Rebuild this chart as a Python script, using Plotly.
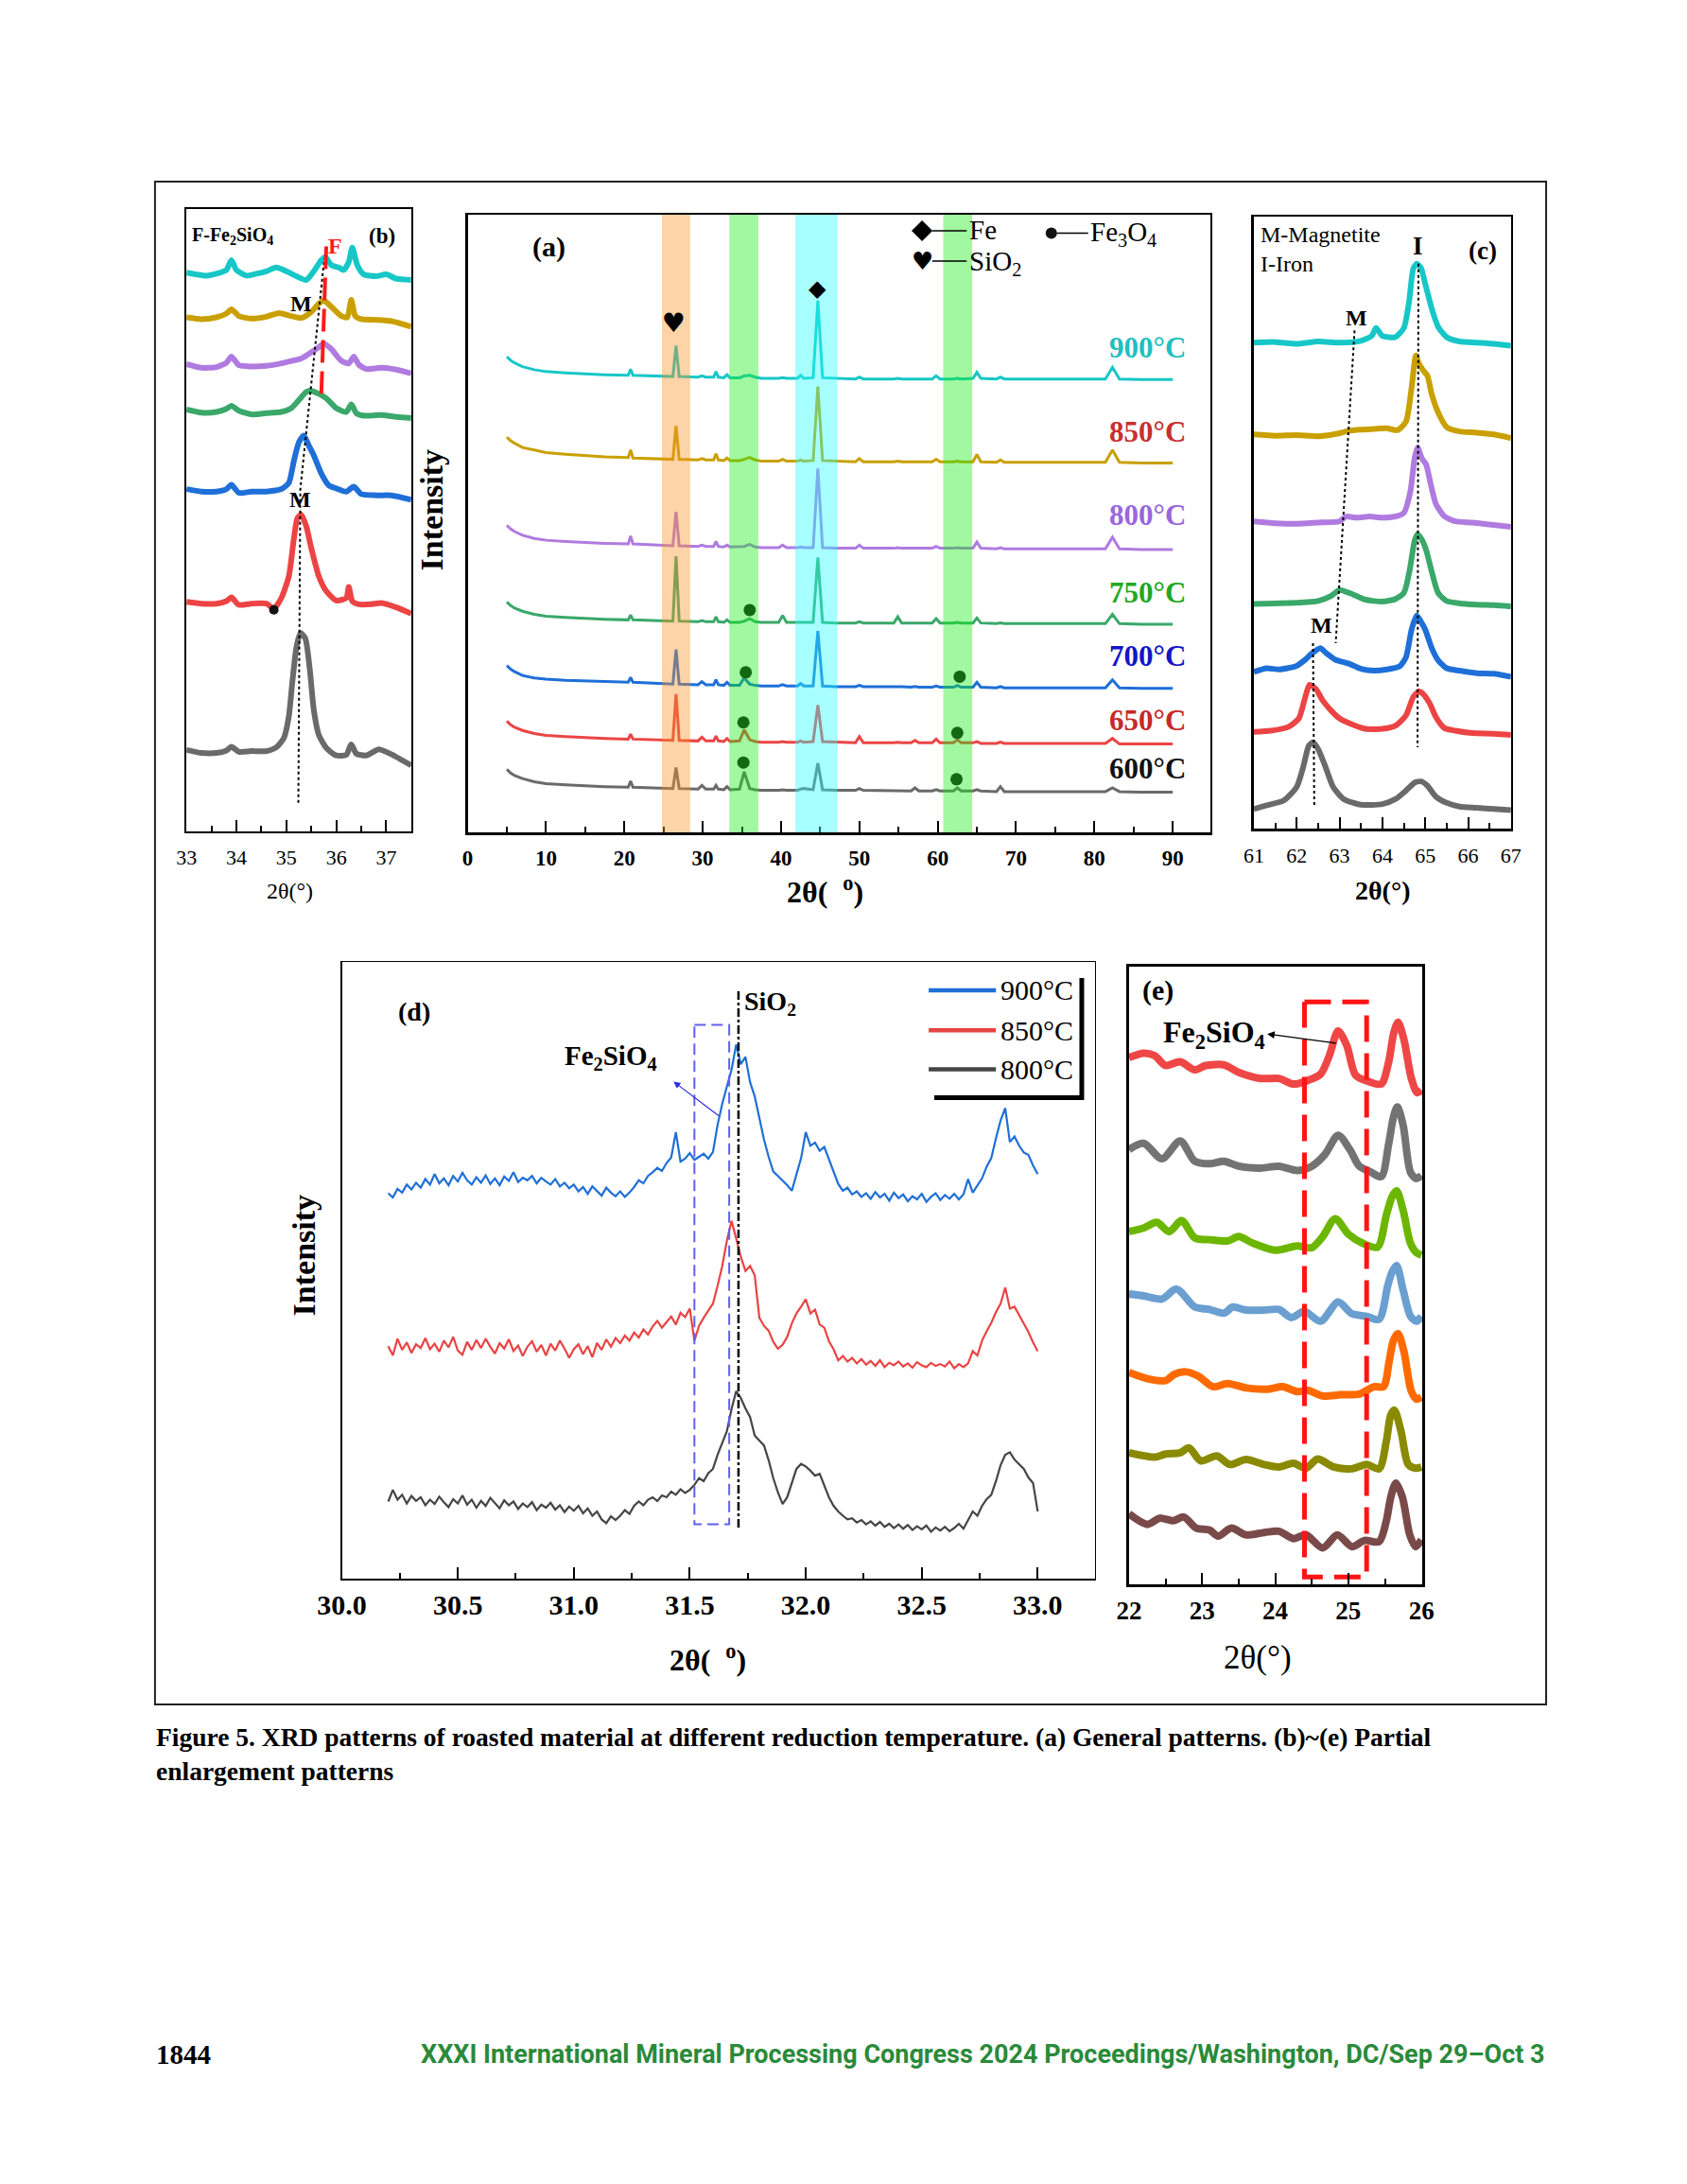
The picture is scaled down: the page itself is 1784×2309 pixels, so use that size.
import plotly.graph_objects as go

W, H = 1784, 2309
SERIF = "Liberation Serif, Times New Roman, serif"
SYM = "DejaVu Sans, sans-serif"

# ---------------- Panel (a): general patterns ----------------
A_X = [5, 5.5, 6, 7, 8.5, 10, 12.5, 15, 17.5,
       20.5, 20.8, 21.1, 23,
       26.2, 26.6, 27.0,
       29.4, 29.9, 30.4,
       31.4, 31.7, 32.0,
       32.7, 33.1, 33.5,
       34.7, 35.3, 36.0, 36.7, 37.5,
       39.7, 40.2, 40.7,
       42.1, 42.5, 42.9,
       44.1, 44.7, 45.3,
       47,
       49.5, 50.0, 50.5,
       54.4, 54.9, 55.4,
       56.6, 57.1, 57.6,
       59.3, 59.8, 60.3,
       62.0, 62.5, 63.0,
       64.5, 65.0, 65.5,
       67.5, 68.0, 68.5,
       72, 77,
       81.4, 82.3, 83.2,
       86, 90]

A_Y_900 = [77.0, 76.4, 76.0, 75.4, 74.9, 74.6, 74.4, 74.2, 74.1,
           74.0, 75.0, 74.0, 73.9,
           73.8, 78.8, 73.8,
           73.7, 73.9, 73.7,
           73.7, 74.6, 73.7,
           73.6, 74.1, 73.6,
           73.6, 73.9, 74.0, 73.7, 73.5,
           73.5, 73.6, 73.5,
           73.5, 74.0, 73.5,
           73.6, 86.1, 73.6,
           73.5,
           73.4, 73.7, 73.4,
           73.4, 73.5, 73.4,
           73.4, 73.5, 73.4,
           73.4, 73.9, 73.4,
           73.4, 73.5, 73.4,
           73.5, 74.5, 73.5,
           73.4, 73.7, 73.4,
           73.4, 73.4,
           73.4, 75.3, 73.4,
           73.3, 73.3]
A_Y_850 = [64.0, 63.4, 63.0, 62.3, 61.9, 61.5, 61.2, 61.0, 60.8,
           60.7, 61.9, 60.6, 60.5,
           60.4, 65.8, 60.4,
           60.3, 60.5, 60.3,
           60.3, 61.3, 60.3,
           60.2, 60.6, 60.2,
           60.2, 60.4, 60.7, 60.3, 60.1,
           60.1, 60.4, 60.1,
           60.1, 60.3, 60.1,
           60.2, 72.2, 60.2,
           60.1,
           60.0, 60.5, 60.0,
           60.0, 60.1, 60.0,
           60.0, 60.1, 60.0,
           60.0, 60.4, 60.0,
           60.0, 60.1, 60.0,
           60.0, 61.2, 60.0,
           59.9, 60.3, 59.9,
           59.9, 59.9,
           59.9, 61.9, 59.9,
           59.8, 59.8]
A_Y_800 = [49.7, 49.1, 48.7, 48.1, 47.6, 47.3, 47.1, 46.9, 46.8,
           46.7, 48.0, 46.7, 46.6,
           46.4, 51.9, 46.4,
           46.3, 46.5, 46.3,
           46.3, 47.1, 46.3,
           46.2, 46.5, 46.2,
           46.2, 46.3, 46.6, 46.2, 46.1,
           46.1, 46.5, 46.1,
           46.1, 46.2, 46.1,
           46.1, 58.9, 46.1,
           46.0,
           46.0, 46.5, 46.0,
           46.0, 46.1, 46.0,
           46.0, 46.1, 46.0,
           46.0, 46.3, 46.0,
           46.0, 46.1, 46.0,
           46.0, 47.0, 46.0,
           45.9, 46.1, 45.9,
           45.9, 45.9,
           45.9, 47.8, 45.9,
           45.8, 45.8]
A_Y_750 = [37.3, 36.7, 36.3, 35.8, 35.3, 35.0, 34.8, 34.6, 34.5,
           34.4, 35.2, 34.4, 34.3,
           34.2, 44.7, 34.2,
           34.1, 34.3, 34.1,
           34.1, 34.9, 34.1,
           34.0, 34.4, 34.0,
           34.0, 34.2, 34.6, 34.1, 34.0,
           34.0, 35.1, 34.0,
           34.0, 34.1, 34.0,
           34.0, 44.5, 34.0,
           33.9,
           33.9, 34.1, 33.9,
           33.9, 34.9, 33.9,
           33.9, 34.0, 33.9,
           33.9, 34.6, 33.9,
           33.9, 34.0, 33.9,
           33.9, 34.7, 33.9,
           33.8, 33.9, 33.8,
           33.8, 33.8,
           33.8, 35.3, 33.8,
           33.7, 33.7]
A_Y_700 = [27.0, 26.4, 26.0, 25.4, 25.0, 24.8, 24.6, 24.5, 24.4,
           24.3, 25.1, 24.3, 24.2,
           24.0, 29.6, 24.0,
           23.9, 24.4, 23.9,
           23.9, 24.7, 23.9,
           23.8, 24.3, 23.8,
           23.8, 25.0, 24.0, 23.8, 23.7,
           23.7, 23.9, 23.7,
           23.7, 24.1, 23.7,
           23.7, 32.6, 23.7,
           23.6,
           23.6, 23.8, 23.6,
           23.6, 23.7, 23.6,
           23.5, 23.6, 23.5,
           23.5, 23.7, 23.5,
           23.5, 23.8, 23.5,
           23.5, 24.3, 23.5,
           23.4, 23.6, 23.4,
           23.4, 23.4,
           23.4, 24.7, 23.4,
           23.3, 23.3]
A_Y_650 = [18.0, 17.4, 17.0, 16.5, 16.0, 15.7, 15.5, 15.3, 15.2,
           15.1, 15.9, 15.1, 15.0,
           14.9, 22.4, 14.9,
           14.8, 15.4, 14.8,
           14.8, 15.6, 14.8,
           14.7, 15.2, 14.7,
           14.8, 16.6, 15.0, 14.7, 14.6,
           14.6, 14.7, 14.6,
           14.6, 14.8, 14.6,
           14.7, 20.6, 14.7,
           14.6,
           14.5, 15.5, 14.5,
           14.5, 14.6, 14.5,
           14.5, 14.9, 14.5,
           14.5, 15.1, 14.5,
           14.5, 15.0, 14.5,
           14.5, 14.7, 14.4,
           14.4, 14.6, 14.4,
           14.4, 14.4,
           14.4, 15.2, 14.3,
           14.3, 14.3]
A_Y_600 = [10.2, 9.6, 9.2, 8.7, 8.2, 7.9, 7.7, 7.5, 7.4,
           7.3, 8.3, 7.3, 7.2,
           7.1, 10.5, 7.1,
           7.0, 7.6, 7.0,
           7.0, 7.6, 7.0,
           6.9, 7.4, 6.9,
           7.0, 9.8, 7.1, 6.9, 6.8,
           6.8, 6.9, 6.8,
           6.8, 7.0, 7.1,
           6.9, 11.2, 6.9,
           6.8,
           6.8, 7.1, 6.8,
           6.7, 6.8, 6.7,
           6.7, 7.2, 6.7,
           6.7, 6.9, 6.7,
           6.7, 7.2, 6.7,
           6.7, 6.9, 6.7,
           6.6, 7.4, 6.6,
           6.6, 6.6,
           6.6, 7.2, 6.6,
           6.5, 6.5]

TEMPS = ["900", "850", "800", "750", "700", "650", "600"]
A_Y = {"900": A_Y_900, "850": A_Y_850, "800": A_Y_800, "750": A_Y_750,
       "700": A_Y_700, "650": A_Y_650, "600": A_Y_600}
TRACE_COLORS = {"900": "#17c7c7", "850": "#c9a000", "800": "#b07be0", "750": "#3aa86a",
                "700": "#1f6fd8", "650": "#ec4444", "600": "#6a6a6a"}
A_LABEL_COLORS = {"900": "#1fbfbf", "850": "#c83030", "800": "#9a66dd", "750": "#22a822",
                  "700": "#1414c8", "650": "#c82828", "600": "#111111"}
A_LABEL_X = 86.8
A_LABEL_Y = {"900": 78.5, "850": 64.9, "800": 51.4, "750": 38.8, "700": 28.6, "650": 18.2, "600": 10.3}

A_BANDS = [(24.8, 28.4, "rgb(250,145,37)"), (33.4, 37.1, "rgb(20,237,20)"),
           (41.8, 47.2, "rgb(37,255,255)"), (60.7, 64.4, "rgb(20,237,20)")]
FE3O4_DOT_X = [36.0, 35.5, 62.8, 35.2, 62.5, 35.2, 62.4]
FE3O4_DOT_Y = [36.0, 25.9, 25.2, 17.8, 16.1, 11.3, 8.6]
FE_MARK = (44.7, 88.1)
SIO2_MARK = (26.3, 82.4)

# ---------------- Panel (b): 33-37.5 ----------------
B_DATA = {
    "900": ([33.0, 33.2, 33.4, 33.6, 33.8, 33.9, 34.0, 34.2, 34.4, 34.6, 34.8, 35.0, 35.2, 35.4, 35.55,
             35.7, 35.78, 35.9, 36.05, 36.15, 36.25, 36.32, 36.42, 36.55, 36.8, 37.0, 37.2, 37.5],
            [89.8, 89.5, 89.3, 89.6, 90.2, 91.8, 90.2, 89.3, 89.6, 90.0, 90.6, 90.0, 89.2, 88.6, 90.0,
             91.8, 92.3, 91.0, 90.6, 90.2, 91.5, 93.8, 91.0, 89.5, 89.2, 89.5, 88.8, 88.6]),
    "850": ([33.0, 33.3, 33.6, 33.8, 33.9, 34.05, 34.3, 34.6, 34.85, 35.1, 35.3, 35.5, 35.65, 35.75,
             35.9, 36.1, 36.22, 36.3, 36.38, 36.5, 36.8, 37.1, 37.5],
            [82.6, 82.3, 82.6, 83.2, 83.9, 82.8, 82.4, 82.7, 83.3, 82.8, 82.5, 83.5, 84.8, 85.3,
             84.3, 82.8, 82.6, 85.4, 82.8, 82.3, 82.2, 82.0, 81.1]),
    "800": ([33.0, 33.3, 33.6, 33.8, 33.9, 34.05, 34.3, 34.6, 34.9, 35.1, 35.3, 35.5, 35.65, 35.75,
             35.9, 36.1, 36.25, 36.35, 36.45, 36.6, 36.9, 37.2, 37.5],
            [75.1, 74.5, 74.6, 75.3, 76.3, 74.9, 74.7, 74.8, 75.2, 75.6, 76.0, 77.0, 77.8, 78.4,
             77.5, 75.6, 75.2, 76.3, 75.0, 74.3, 74.5, 74.2, 73.6]),
    "750": ([33.0, 33.3, 33.6, 33.8, 33.9, 34.05, 34.3, 34.6, 34.9, 35.1, 35.25, 35.4, 35.5, 35.65,
             35.8, 36.0, 36.2, 36.3, 36.4, 36.55, 36.9, 37.2, 37.5],
            [67.8, 67.3, 67.4, 67.9, 68.4, 67.6, 67.0, 67.2, 67.4, 68.0, 69.3, 70.6, 70.8, 70.3,
             69.6, 68.0, 67.4, 68.6, 67.2, 66.8, 66.9, 66.6, 66.4]),
    "700": ([33.0, 33.3, 33.6, 33.8, 33.9, 34.05, 34.3, 34.6, 34.9, 35.05, 35.15, 35.25, 35.35, 35.45,
             35.55, 35.7, 35.85, 36.0, 36.2, 36.35, 36.5, 36.8, 37.1, 37.5],
            [55.0, 54.6, 54.6, 55.0, 55.7, 54.4, 54.6, 54.6, 55.0, 56.0, 59.5, 62.5, 63.6, 62.0,
             60.4, 57.5, 55.6, 55.1, 54.6, 55.4, 54.2, 54.0, 54.0, 53.3]),
    "650": ([33.0, 33.3, 33.6, 33.8, 33.9, 34.05, 34.3, 34.6, 34.75, 34.9, 35.05, 35.15, 35.22, 35.3,
             35.4, 35.5, 35.65, 35.8, 36.0, 36.2, 36.25, 36.32, 36.45, 36.7, 36.9, 37.2, 37.5],
            [36.9, 36.6, 36.6, 37.0, 37.6, 36.4, 36.6, 36.6, 35.8, 37.5, 41.0, 47.0, 50.3, 50.9,
             49.0, 45.5, 41.0, 38.6, 37.1, 37.5, 39.3, 37.0, 36.5, 36.5, 36.7, 36.0, 35.0]),
    "600": ([33.0, 33.3, 33.6, 33.8, 33.9, 34.05, 34.3, 34.6, 34.8, 34.95, 35.05, 35.12, 35.2, 35.28,
             35.38, 35.47, 35.55, 35.65, 35.8, 36.0, 36.2, 36.3, 36.4, 36.6, 36.85, 37.1, 37.5],
            [13.1, 12.6, 12.6, 13.0, 13.6, 12.8, 12.9, 12.9, 13.5, 15.0, 18.5, 24.0, 29.5, 31.9,
             31.0, 26.0, 19.5, 15.5, 13.4, 12.2, 12.3, 14.0, 12.5, 12.2, 13.2, 12.4, 10.6]),
}
B_GUIDE_X = [35.24, 35.28, 35.76]
B_GUIDE_Y = [4.6, 55.0, 92.0]
B_F_X = [35.70, 35.80]
B_F_Y = [70.3, 94.2]
B_DOT = (34.75, 35.6)

# ---------------- Panel (c): 61-67 ----------------
C_DATA = {
    "900": ([61.0, 61.5, 62.0, 62.5, 63.0, 63.5, 63.75, 63.85, 64.0, 64.3, 64.5, 64.62, 64.72, 64.8,
             64.9, 65.0, 65.15, 65.3, 65.5, 65.8, 66.2, 66.6, 67.0],
            [79.4, 79.5, 79.2, 79.6, 79.4, 79.7, 80.5, 81.8, 80.5, 80.3, 81.8, 86.0, 91.5, 92.3,
             91.6, 89.0, 85.0, 82.0, 80.3, 79.6, 79.4, 79.2, 78.9]),
    "850": ([61.0, 61.5, 62.0, 62.5, 63.0, 63.2, 63.5, 63.8, 64.1, 64.35, 64.55, 64.68, 64.78, 64.85,
             64.95, 65.05, 65.15, 65.3, 65.5, 65.8, 66.2, 66.6, 67.0],
            [64.4, 64.2, 64.3, 64.1, 64.6, 65.0, 65.2, 65.3, 65.4, 65.1, 66.5, 72.0, 77.3, 76.0,
             74.9, 74.0, 71.0, 68.0, 65.6, 64.9, 64.7, 64.4, 63.8]),
    "800": ([61.0, 61.5, 62.0, 62.5, 63.0, 63.15, 63.4, 63.7, 64.0, 64.3, 64.5, 64.65, 64.75, 64.82,
             64.92, 65.02, 65.12, 65.25, 65.45, 65.7, 66.1, 66.6, 67.0],
            [50.2, 49.9, 49.8, 50.0, 50.2, 51.0, 50.8, 51.0, 50.8, 51.0, 51.6, 55.0, 60.5, 62.3,
             60.5, 59.5, 56.5, 53.0, 51.0, 50.2, 50.0, 49.6, 49.3]),
    "750": ([61.0, 61.5, 62.0, 62.5, 62.8, 63.0, 63.3, 63.6, 64.0, 64.3, 64.5, 64.63, 64.75, 64.82,
             64.92, 65.02, 65.15, 65.3, 65.5, 65.8, 66.2, 66.6, 67.0],
            [36.7, 36.8, 36.9, 37.2, 38.0, 39.0, 38.3, 37.4, 37.1, 37.5, 38.5, 42.0, 47.0, 48.1,
             47.2, 45.5, 42.0, 38.5, 37.2, 36.8, 36.6, 36.5, 36.3]),
    "700": ([61.0, 61.3, 61.6, 62.0, 62.2, 62.35, 62.55, 62.7, 62.9, 63.2, 63.5, 63.8, 64.1, 64.4,
             64.55, 64.68, 64.8, 64.9, 65.0, 65.15, 65.3, 65.5, 65.8, 66.2, 66.6, 67.0],
            [25.6, 26.2, 26.0, 26.6, 27.6, 28.6, 29.5, 28.6, 27.6, 27.0, 26.1, 25.8, 26.0, 26.5,
             28.0, 32.5, 34.8, 33.8, 32.5, 29.5, 27.5, 26.2, 25.8, 25.4, 25.3, 24.8]),
    "650": ([61.0, 61.4, 61.8, 62.05, 62.2, 62.3, 62.45, 62.6, 62.8, 63.0, 63.3, 63.6, 64.0, 64.3,
             64.55, 64.72, 64.85, 64.95, 65.1, 65.25, 65.45, 65.7, 66.1, 66.6, 67.0],
            [15.8, 16.0, 16.6, 18.0, 21.5, 23.5, 22.8, 21.0, 19.3, 18.0, 17.0, 16.3, 16.3, 16.8,
             18.5, 21.5, 22.4, 22.0, 20.5, 18.2, 16.4, 16.0, 15.6, 15.5, 15.3]),
    "600": ([61.0, 61.3, 61.7, 62.0, 62.15, 62.28, 62.38, 62.5, 62.65, 62.85, 63.1, 63.5, 64.0, 64.3,
             64.55, 64.75, 64.9, 65.05, 65.25, 65.5, 65.8, 66.2, 66.6, 67.0],
            [3.2, 3.8, 4.6, 6.8, 10.0, 13.5, 14.1, 13.0, 10.5, 6.8, 4.8, 3.9, 4.0, 4.8,
             6.2, 7.5, 7.7, 7.0, 5.2, 4.2, 3.6, 3.4, 3.2, 3.0]),
}
C_GUIDES = [([64.84, 64.82], [92.3, 13.3]),
            ([63.35, 62.91], [81.4, 30.3]),
            ([62.38, 62.41], [30.3, 3.6])]

# ---------------- Panel (d): 30-33 ----------------
D_X = [round(30.20 + 0.02 * i, 2) for i in range(141)]
D_Y_900 = [62.5, 61.8, 63.2, 62.6, 63.9, 63.1, 64.2, 63.4, 64.8, 63.9,
           65.6, 64.1, 64.9, 63.8, 65.3, 64.4, 65.8, 64.6, 63.9, 65.1,
           64.2, 65.4, 64.0, 64.9, 63.8, 65.2, 64.5, 65.9, 64.3, 65.0,
           64.6, 65.3, 64.1, 65.0, 64.4, 63.9, 64.8, 63.6, 64.2, 63.3,
           63.9, 62.8, 63.5, 62.4, 63.6, 62.9, 62.1, 63.4, 62.6, 62.0,
           62.8, 61.9, 62.6, 63.5, 64.6, 64.1, 65.3, 65.9, 66.6, 66.1,
           67.4, 68.3, 72.4, 67.6, 68.1, 69.0, 67.9, 68.4, 68.9, 68.1,
           69.2, 73.6, 77.0, 79.8, 82.5, 86.6, 83.4, 84.6, 80.5, 78.2,
           74.6, 71.2, 68.4, 66.0, 65.3, 64.6, 63.8, 62.9, 65.4, 68.2,
           72.4, 70.2, 70.7, 69.4, 70.0, 68.1, 66.2, 64.0, 62.9, 63.4,
           62.3, 62.8, 61.9, 62.5, 61.6, 62.7, 61.8, 62.4, 61.3, 62.6,
           61.7, 62.3, 61.2, 62.0, 61.5, 62.4, 61.1, 61.9, 62.5, 61.4,
           62.2, 61.6, 62.4, 61.5, 62.3, 64.8, 62.6, 63.7, 64.9, 66.8,
           68.2, 71.4, 74.3, 76.3, 70.8, 71.7, 70.2, 69.1, 68.7, 67.0,
           65.6]
D_Y_850 = [37.7, 36.2, 38.9, 37.1, 38.3, 36.6, 38.0, 37.4, 39.0, 37.2,
           38.1, 36.8, 38.6, 37.5, 39.2, 37.0, 36.3, 38.4, 37.1, 38.7,
           37.4, 38.9, 37.6, 36.5, 38.2, 37.3, 38.8, 36.9, 37.8, 36.1,
           37.6, 38.5, 36.8, 37.9, 36.2, 38.1, 37.0, 38.6, 37.3, 35.8,
           37.2, 38.0, 36.4, 37.7, 35.9, 38.2, 37.1, 38.8, 37.6, 39.0,
           38.2, 39.4, 38.6, 39.9, 39.1, 40.4, 39.6, 40.9, 41.8, 40.7,
           41.6, 42.5, 41.2, 43.1, 42.4, 43.8, 38.6, 41.0, 42.3, 43.4,
           44.6, 47.5, 50.7, 54.8, 58.0, 55.2, 52.2, 49.9, 50.7, 49.2,
           42.3, 41.0, 40.2, 38.4, 37.3, 37.9, 39.2, 41.4, 43.0, 44.1,
           45.3, 43.0, 43.6, 41.2, 40.7, 38.5, 37.2, 35.4, 36.1, 35.2,
           35.8, 34.9, 35.6, 34.7, 35.3, 34.5, 35.4, 34.3, 35.0, 34.6,
           35.2, 34.4, 34.9, 34.2, 35.1, 34.6, 34.3, 35.0, 34.5, 34.8,
           34.4, 35.2, 34.1, 34.8, 34.3, 34.9, 36.9, 36.2, 38.6, 40.1,
           41.5, 43.2, 44.6, 47.2, 43.8, 44.1, 42.7, 41.5, 40.0, 38.3,
           36.9]
D_Y_800 = [12.5, 14.4, 12.8, 13.6, 12.2, 13.4, 12.6, 13.2, 11.9, 12.8,
           12.1, 13.3, 12.4, 11.6, 12.9, 12.2, 13.5, 12.0, 12.8, 11.5,
           12.6, 11.8, 13.1, 12.3, 11.4, 12.7, 11.9, 12.5, 11.3, 12.2,
           11.6, 12.4, 11.1, 12.0, 11.5, 12.3, 11.2, 11.9, 10.8, 11.7,
           11.0, 11.8, 10.6, 11.4, 10.2, 10.9, 9.6, 9.0, 10.1, 9.5,
           10.2, 11.1, 10.5, 11.8, 12.5, 11.9, 12.8, 13.2, 12.6, 13.5,
           13.2, 14.1, 13.6, 14.5, 13.9, 14.4, 15.2, 16.3, 15.8, 17.1,
           17.8, 20.1, 22.0, 23.9, 27.5, 30.4, 29.3, 27.6, 26.2, 23.2,
           22.4, 21.6, 19.2, 16.3, 14.0, 12.1, 13.2, 15.4, 17.8, 18.6,
           18.2, 17.5, 16.7, 17.0, 15.1, 13.2, 11.8, 10.9, 10.2, 9.6,
           9.8, 9.1, 9.5, 8.8, 9.3, 8.6, 9.2, 8.4, 8.9, 8.2,
           8.8, 8.1, 8.7, 7.9, 8.5, 8.0, 8.6, 7.6, 8.3, 7.8,
           8.4, 7.7, 8.2, 8.9, 8.1, 9.4, 10.9, 10.2, 11.8, 12.9,
           13.6, 15.8, 18.4, 20.1, 20.5, 19.3, 18.6, 17.8, 16.4, 15.5,
           10.9]
D_SERIES = [("900", D_Y_900, "#1f6fd6"), ("850", D_Y_850, "#e84444"), ("800", D_Y_800, "#454545")]
D_LEG_Y = [95.4, 88.9, 82.6]
D_SIO2_X = 31.71
D_BOX = (31.52, 31.67, 8.8, 89.8)

# ---------------- Panel (e): 22-26 ----------------
E_DATA = [
    ("#ef4646",
     [22.0, 22.2, 22.35, 22.5, 22.7, 22.9, 23.05, 23.3, 23.5, 23.8, 24.05, 24.25, 24.45, 24.62, 24.74,
      24.86, 24.98, 25.1, 25.28, 25.45, 25.55, 25.62, 25.68, 25.76, 25.86, 25.94, 26.0],
     [85.3, 86.0, 85.6, 84.0, 84.6, 83.3, 84.0, 84.1, 82.9, 81.9, 81.9, 81.0, 81.6, 82.6, 85.6,
      89.6, 87.2, 82.4, 81.4, 81.0, 84.5, 89.2, 91.0, 88.2, 82.0, 79.6, 80.0]),
    ("#737373",
     [22.0, 22.2, 22.45, 22.7, 22.9, 23.1, 23.3, 23.5, 23.8, 24.05, 24.3, 24.5, 24.68, 24.86, 25.02,
      25.15, 25.3, 25.45, 25.55, 25.62, 25.67, 25.75, 25.85, 25.93, 26.0],
     [70.4, 71.4, 68.9, 71.8, 68.5, 68.1, 68.5, 67.7, 67.4, 67.7, 67.0, 67.7, 69.6, 72.7, 70.4,
      67.7, 66.8, 66.0, 71.2, 75.8, 77.3, 74.3, 66.7, 65.7, 66.2]),
    ("#6db600",
     [22.0, 22.2, 22.38, 22.55, 22.72, 22.9, 23.1, 23.35, 23.5, 23.7, 24.0, 24.3, 24.5, 24.65, 24.82,
      25.0, 25.2, 25.4, 25.52, 25.6, 25.66, 25.75, 25.85, 25.93, 26.0],
     [57.1, 57.7, 58.6, 57.1, 58.9, 56.1, 55.8, 55.6, 56.3, 55.2, 54.1, 54.8, 54.5, 56.3, 59.2,
      56.7, 55.2, 54.6, 59.8, 62.8, 63.7, 60.5, 55.2, 53.7, 53.3]),
    ("#6a9fd0",
     [22.0, 22.2, 22.45, 22.65, 22.9, 23.1, 23.3, 23.42, 23.6, 23.85, 24.05, 24.22, 24.4, 24.62, 24.86,
      25.05, 25.25, 25.42, 25.54, 25.6, 25.66, 25.75, 25.85, 25.93, 26.0],
     [47.0, 46.7, 46.2, 47.8, 44.9, 44.5, 43.9, 44.9, 44.4, 44.4, 44.5, 43.2, 44.2, 42.6, 45.7,
      43.8, 43.4, 42.9, 48.4, 50.6, 51.6, 47.6, 43.4, 42.6, 43.4]),
    ("#ff6a00",
     [22.0, 22.25, 22.5, 22.62, 22.78, 22.95, 23.15, 23.35, 23.6, 23.9, 24.1, 24.3, 24.45, 24.65, 24.9,
      25.15, 25.35, 25.48, 25.56, 25.62, 25.68, 25.76, 25.86, 25.93, 26.0],
     [34.3, 33.3, 33.0, 34.0, 34.4, 33.7, 32.0, 32.5, 31.8, 31.6, 32.0, 31.2, 31.4, 30.5, 30.7,
      30.8, 32.0, 32.0, 36.2, 39.6, 40.6, 37.7, 31.3, 30.0, 30.3]),
    ("#8a8a00",
     [22.0, 22.35, 22.5, 22.7, 22.82, 22.98, 23.2, 23.38, 23.6, 23.85, 24.05, 24.25, 24.42, 24.58, 24.8,
      25.05, 25.25, 25.42, 25.52, 25.58, 25.63, 25.72, 25.82, 25.92, 26.0],
     [21.3, 20.6, 21.1, 21.3, 22.1, 20.0, 20.8, 19.4, 20.2, 19.4, 19.0, 19.6, 18.8, 20.3, 19.0,
      18.7, 19.4, 18.7, 23.2, 27.4, 28.2, 24.8, 19.4, 18.8, 19.0]),
    ("#7a4a4a",
     [22.0, 22.25, 22.42, 22.6, 22.75, 22.92, 23.1, 23.22, 23.4, 23.6, 23.85, 24.05, 24.25, 24.42, 24.65,
      24.85, 25.05, 25.22, 25.42, 25.52, 25.58, 25.65, 25.74, 25.84, 25.92, 26.0],
     [11.4, 9.7, 10.7, 10.3, 10.9, 9.1, 8.8, 7.8, 9.1, 8.0, 8.4, 8.6, 7.4, 8.0, 5.9,
      8.0, 6.1, 7.1, 6.9, 10.3, 14.1, 16.4, 14.1, 8.0, 6.1, 7.2]),
]
E_BOX = (24.40, 25.25, 1.2, 94.3)

# ---------------- Layout geometry (pixels) ----------------
PANELS = {
    "a": dict(x=(479, 1282), y=(227, 880)),
    "b": dict(x=(175, 418), y=(221, 879)),
    "c": dict(x=(1329, 1607), y=(229, 876)),
    "d": dict(x=(343, 1157), y=(1017, 1669)),
    "e": dict(x=(1194, 1511), y=(1022, 1675)),
}


def dom_x(p):
    return [p[0] / W, p[1] / W]


def dom_y(p):
    return [1 - p[1] / H, 1 - p[0] / H]


fig = go.Figure()

# --- panel a traces ---
for t in TEMPS[::-1]:
    fig.add_trace(go.Scatter(x=A_X, y=A_Y[t], mode="lines", xaxis="x", yaxis="y",
                             line=dict(color=TRACE_COLORS[t], width=3), showlegend=False))
fig.add_trace(go.Scatter(x=FE3O4_DOT_X, y=FE3O4_DOT_Y, mode="markers", xaxis="x", yaxis="y",
                         marker=dict(symbol="circle", size=13, color="#111111"), showlegend=False))
fig.add_trace(go.Scatter(x=[58.0], y=[97.4], mode="markers", xaxis="x", yaxis="y",
                         marker=dict(symbol="diamond", size=17, color="#000000"), showlegend=False))
fig.add_trace(go.Scatter(x=[74.5], y=[97.0], mode="markers", xaxis="x", yaxis="y",
                         marker=dict(symbol="circle", size=12, color="#111111"), showlegend=False))

# --- panel b traces ---
for t in TEMPS:
    bx, by = B_DATA[t]
    fig.add_trace(go.Scatter(x=bx, y=by, mode="lines", xaxis="x2", yaxis="y2",
                             line=dict(color=TRACE_COLORS[t], width=6, shape="spline", smoothing=0.6),
                             showlegend=False))
fig.add_trace(go.Scatter(x=B_GUIDE_X, y=B_GUIDE_Y, mode="lines", xaxis="x2", yaxis="y2",
                         line=dict(color="black", width=2, dash="3px,3px"), showlegend=False))
fig.add_trace(go.Scatter(x=B_F_X, y=B_F_Y, mode="lines", xaxis="x2", yaxis="y2",
                         line=dict(color="#ff1a1a", width=4, dash="24px,9px"), showlegend=False))
fig.add_trace(go.Scatter(x=[B_DOT[0]], y=[B_DOT[1]], mode="markers", xaxis="x2", yaxis="y2",
                         marker=dict(size=10, color="#111111"), showlegend=False))

# --- panel c traces ---
for t in TEMPS:
    cx, cy = C_DATA[t]
    fig.add_trace(go.Scatter(x=cx, y=cy, mode="lines", xaxis="x3", yaxis="y3",
                             line=dict(color=TRACE_COLORS[t], width=6, shape="spline", smoothing=0.6),
                             showlegend=False))
for gx, gy in C_GUIDES:
    fig.add_trace(go.Scatter(x=gx, y=gy, mode="lines", xaxis="x3", yaxis="y3",
                             line=dict(color="black", width=2, dash="3px,3px"), showlegend=False))

# --- panel d traces ---
for name, yv, col in D_SERIES:
    fig.add_trace(go.Scatter(x=D_X, y=yv, mode="lines", xaxis="x4", yaxis="y4",
                             line=dict(color=col, width=2.2), showlegend=False))
fig.add_trace(go.Scatter(x=[D_SIO2_X, D_SIO2_X], y=[8.3, 95.4], mode="lines", xaxis="x4", yaxis="y4",
                         line=dict(color="black", width=2.5, dash="dashdot"), showlegend=False))
bx0, bx1, by0, by1 = D_BOX
fig.add_trace(go.Scatter(x=[bx0, bx1, bx1, bx0, bx0], y=[by1, by1, by0, by0, by1], mode="lines",
                         xaxis="x4", yaxis="y4",
                         line=dict(color="#6060f0", width=2, dash="12px,6px"), showlegend=False))
for (name, yv, col), ly in zip(D_SERIES, D_LEG_Y):
    fig.add_trace(go.Scatter(x=[32.53, 32.82], y=[ly, ly], mode="lines", xaxis="x4", yaxis="y4",
                             line=dict(color=col, width=4.5), showlegend=False))
fig.add_trace(go.Scatter(x=[33.19, 33.19, 32.554], y=[97.4, 78.0, 78.0], mode="lines",
                         xaxis="x4", yaxis="y4", line=dict(color="black", width=5), showlegend=False))

# --- panel e traces ---
for col, ex, ey in E_DATA:
    fig.add_trace(go.Scatter(x=ex, y=ey, mode="lines", xaxis="x5", yaxis="y5",
                             line=dict(color=col, width=8, shape="spline", smoothing=0.8),
                             showlegend=False))
ex0, ex1, ey0, ey1 = E_BOX
fig.add_trace(go.Scatter(x=[ex0, ex1, ex1, ex0, ex0], y=[ey1, ey1, ey0, ey0, ey1], mode="lines",
                         xaxis="x5", yaxis="y5",
                         line=dict(color="#ff1414", width=5, dash="28px,12px"), showlegend=False))

# ---------------- Axes ----------------
def xaxis(p, rng, dtick, mdtick, tsize, bold, lw, standoff, tick0=None):
    d = dict(domain=dom_x(PANELS[p]["x"]), range=rng, showgrid=False, zeroline=False,
             showline=True, mirror=True, linecolor="black", linewidth=lw,
             ticks="inside", ticklen=12, tickwidth=2, tickcolor="black", dtick=dtick,
             tickfont=dict(family=SERIF, size=tsize, color="black", weight="bold" if bold else "normal"),
             minor=dict(dtick=mdtick, ticks="inside", ticklen=6, tickwidth=2, tickcolor="black"),
             ticklabelstandoff=standoff, fixedrange=True)
    if tick0 is not None:
        d["tick0"] = tick0
    return d


def yaxis(p, lw, anchor):
    return dict(domain=dom_y(PANELS[p]["y"]), range=[0, 100], showgrid=False, zeroline=False,
                showline=True, mirror=True, linecolor="black", linewidth=lw,
                showticklabels=False, ticks="", anchor=anchor, fixedrange=True)


layout = dict(
    width=W, height=H, margin=dict(l=0, r=0, t=0, b=0),
    paper_bgcolor="white", plot_bgcolor="white", showlegend=False,
    xaxis=xaxis("a", [0, 94.8], 10, 5, 23, True, 2.5, 5),
    yaxis=yaxis("a", 2.5, "x"),
    xaxis2=xaxis("b", [33, 37.5], 1, 0.5, 22, False, 2.2, 6),
    yaxis2=yaxis("b", 2.2, "x2"),
    xaxis3=xaxis("c", [61, 67], 1, 0.5, 22, False, 2.5, 7),
    yaxis3=yaxis("c", 2.5, "x3"),
    xaxis4=xaxis("d", [30, 33.246], 0.5, 0.25, 30, True, 1.5, 0, tick0=30),
    yaxis4=yaxis("d", 1.5, "x4"),
    xaxis5=xaxis("e", [22, 26.01], 1, 0.5, 27, True, 3, 2),
    yaxis5=yaxis("e", 3, "x5"),
)
layout["xaxis"]["anchor"] = "y"
layout["xaxis2"]["anchor"] = "y2"
layout["xaxis3"]["anchor"] = "y3"
layout["xaxis4"]["anchor"] = "y4"
layout["xaxis5"]["anchor"] = "y5"
layout["xaxis4"]["tickformat"] = ".1f"
fig.update_layout(**layout)

# ---------------- Shapes ----------------
shapes = []
for x0, x1, col in A_BANDS:
    shapes.append(dict(type="rect", xref="x", yref="y domain", x0=x0, x1=x1, y0=0, y1=1,
                       fillcolor=col, opacity=0.4, line=dict(width=0), layer="above"))
for (lx0, lx1, ly) in [(59.3, 63.7, 97.4), (59.3, 63.7, 92.5), (75.2, 79.2, 97.0)]:
    shapes.append(dict(type="line", xref="x", yref="y", x0=lx0, x1=lx1, y0=ly, y1=ly,
                       line=dict(color="black", width=1.5)))
shapes.append(dict(type="rect", xref="paper", yref="paper", x0=141 / W, x1=1645 / W,
                   y0=1 - 1802 / H, y1=1 - 192 / H, line=dict(color="#222222", width=2)))
fig.update_layout(shapes=shapes)

# ---------------- Annotations ----------------
ann = []


def A(text, x, y, xref, yref, size, color="black", bold=True, xanchor="center", yanchor="middle",
      family=SERIF, angle=0):
    ann.append(dict(text=text, x=x, y=y, xref=xref, yref=yref, showarrow=False, xanchor=xanchor,
                    yanchor=yanchor, textangle=angle,
                    font=dict(family=family, size=size, color=color, weight="bold" if bold else "normal")))


def P(text, px, py, size, bold=True, xanchor="center", color="black", family=SERIF, angle=0):
    A(text, px / W, 1 - py / H, "paper", "paper", size, color=color, bold=bold, xanchor=xanchor,
      family=family, angle=angle)


# panel a
A("(a)", 10.35, 94.8, "x", "y", 30)
for t in TEMPS:
    A(t + "°C", A_LABEL_X, A_LABEL_Y[t], "x", "y", 31, color=A_LABEL_COLORS[t])
A("◆", FE_MARK[0], FE_MARK[1], "x", "y", 24, family=SYM, bold=False)
A("♥", SIO2_MARK[0], SIO2_MARK[1], "x", "y", 28, family=SYM, bold=False)
A("♥", 58.0, 92.5, "x", "y", 26, family=SYM, bold=False)
A("Fe", 63.8, 97.6, "x", "y", 29, bold=False, xanchor="left")
A("SiO<sub>2</sub>", 63.8, 92.2, "x", "y", 29, bold=False, xanchor="left")
A("Fe<sub>3</sub>O<sub>4</sub>", 79.2, 97.0, "x", "y", 29, bold=False, xanchor="left")
P("2θ(&nbsp;&nbsp;<sup>o</sup>)", 865, 941, 32)
P("Intensity", 440, 539, 34, angle=-90)

# panel b
A("F-Fe<sub>2</sub>SiO<sub>4</sub>", 33.07, 95.7, "x2", "y2", 20, xanchor="left")
A("(b)", 36.91, 95.7, "x2", "y2", 23)
A("F", 35.98, 94.0, "x2", "y2", 24, color="#ff1a1a")
A("M", 35.30, 84.8, "x2", "y2", 24)
A("M", 35.27, 53.3, "x2", "y2", 24)
P("2θ(°)", 287, 942, 24, bold=False)

# panel c
A("M-Magnetite", 61.12, 97.1, "x3", "y3", 24, bold=False, xanchor="left")
A("I-Iron", 61.12, 92.2, "x3", "y3", 24, bold=False, xanchor="left")
A("I", 64.84, 95.2, "x3", "y3", 27)
A("(c)", 66.35, 94.4, "x3", "y3", 27)
A("M", 63.40, 83.5, "x3", "y3", 24)
A("M", 62.57, 33.3, "x3", "y3", 24)
P("2θ(°)", 1468, 941, 28)

# panel d
A("(d)", 30.313, 92.0, "x4", "y4", 28)
A("SiO<sub>2</sub>", 31.725, 93.3, "x4", "y4", 28, xanchor="left")
A("Fe<sub>2</sub>SiO<sub>4</sub>", 31.16, 84.5, "x4", "y4", 29)
for (name, yv, col), ly in zip(D_SERIES, D_LEG_Y):
    A(name + "°C", 32.83, ly, "x4", "y4", 30, bold=False, xanchor="left")
ann.append(dict(x=31.43, y=80.6, ax=31.63, ay=74.9, xref="x4", yref="y4", axref="x4", ayref="y4",
                text="", showarrow=True, arrowhead=2, arrowsize=1.2, arrowwidth=1.2, arrowcolor="#2a2ae0"))
P("2θ(&nbsp;&nbsp;<sup>o</sup>)", 739, 1753, 32)
P("Intensity", 302, 1327, 34, angle=-90)

# panel e
A("(e)", 22.40, 96.2, "x5", "y5", 30)
A("Fe<sub>2</sub>SiO<sub>4</sub>", 23.17, 89.1, "x5", "y5", 32)
ann.append(dict(x=23.89, y=89.1, ax=24.85, ay=87.6, xref="x5", yref="y5", axref="x5", ayref="y5",
                text="", showarrow=True, arrowhead=2, arrowsize=1.2, arrowwidth=1.3, arrowcolor="black"))
P("2θ(°)", 1333, 1752, 35, bold=False)

# caption & footer
CAPTION_1 = "Figure 5. XRD patterns of roasted material at different reduction temperature. (a) General patterns. (b)~(e) Partial"
CAPTION_2 = "enlargement patterns"
P(CAPTION_1, 140, 1836, 27.5, xanchor="left")
P(CAPTION_2, 140, 1872, 27.5, xanchor="left")
P("1844", 140, 2172, 29, xanchor="left")
ann.append(dict(text="XXXI International Mineral Processing Congress 2024 Proceedings/Washington, DC/Sep 29–Oct 3",
                x=1646 / W, y=1 - 2172 / H, xref="paper", yref="paper", showarrow=False,
                xanchor="right", yanchor="middle",
                font=dict(family="Liberation Sans Narrow, Roboto, sans-serif", size=27, color="#2a8a3a",
                          weight="bold")))
fig.update_layout(annotations=ann)

fig.write_html("out.html", config={"displayModeBar": False, "staticPlot": True},
               post_script="document.body.style.margin='0px';")
